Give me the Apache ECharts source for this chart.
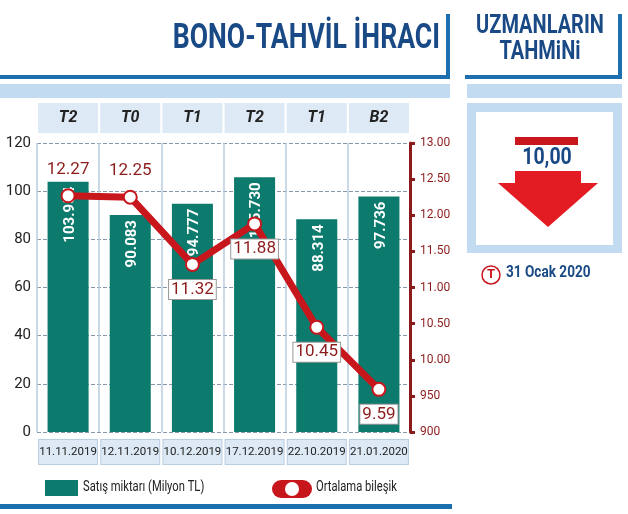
<!DOCTYPE html>
<html><head><meta charset="utf-8">
<script src="https://cdn.jsdelivr.net/npm/echarts@6/dist/echarts.min.js"></script>
<style>html,body{margin:0;padding:0;background:#fff}#c{width:628px;height:514px}</style>
</head><body><div id="c"></div>
<script>
var types = ['T2','T0','T1','T2','T1','B2'];
var dates = ['11.11.2019','12.11.2019','10.12.2019','17.12.2019','22.10.2019','21.01.2020'];
var sales = [103.954, 90.083, 94.777, 105.730, 88.314, 97.736];
var salesLabels = ['103.954','90.083','94.777','105.730','88.314','97.736'];
var rates = [12.27, 12.25, 11.32, 11.88, 10.45, 9.59];
var leftTicks = ['0','20','40','60','80','100','120'];
var rightTicks = ['900','950','10.00','10.50','11.00','11.50','12.00','12.50','13.00'];
var F = '"Roboto","DejaVu Sans",sans-serif';
var blue = '#1d70b0', navy = '#1a4a85', red = '#c8161d', dred = '#8c1c1c', green = '#0c7a6c';
function txt(x,y,s,font,fill,align,sx,extra){
  var st={text:s,font:font,fill:fill,textAlign:align||'left'};
  if(extra) for(var k in extra) st[k]=extra[k];
  return {type:'text',x:x,y:y,scaleX:sx||0.78,style:st};
}
var chart = echarts.init(document.getElementById('c'));
chart.setOption({
  animation:false,
  grid:{left:37,right:218,top:143,bottom:82},
  xAxis:[{type:'category',data:dates,position:'bottom',axisLine:{show:false},axisTick:{show:false},
    splitLine:{show:true,lineStyle:{color:'#b9cde0',width:1.5}},
    axisLabel:{margin:8,interval:0,fontFamily:F,fontSize:11.5,color:'#222',backgroundColor:'#dde9f5',
      borderColor:'#b9cde0',borderWidth:1,width:58,height:24,lineHeight:24,align:'center'}},
    {type:'category',data:types,position:'top',axisLine:{show:false},axisTick:{show:false},
    axisLabel:{margin:10,interval:0,fontFamily:F,fontSize:16,fontWeight:'bold',fontStyle:'italic',color:'#222',
      backgroundColor:'#dde9f5',width:60,height:30,lineHeight:30,align:'center'}}],
  yAxis:[{type:'value',min:0,max:120,interval:20,axisLine:{show:false},axisTick:{show:false},
    axisLabel:{fontFamily:F,fontSize:15,color:'#222',margin:6,formatter:function(v){return leftTicks[v/20];}},
    splitLine:{lineStyle:{type:'dashed',color:'#8898a8'}}},
    {type:'value',min:9,max:13,interval:0.5,position:'right',
    axisLine:{show:true,lineStyle:{color:dred,width:3}},axisTick:{show:true,inside:false,length:5,lineStyle:{color:dred,width:3}},
    axisLabel:{fontFamily:F,fontSize:12,color:dred,margin:10,formatter:function(v){return rightTicks[Math.round((v-9)*2)];}},
    splitLine:{show:false}}],
  series:[
    {type:'bar',data:sales,barWidth:'66%',itemStyle:{color:green},
     label:{show:true,position:'insideTop',rotate:90,align:'right',verticalAlign:'middle',offset:[0,2],
       fontFamily:F,fontSize:15,fontWeight:'bold',color:'#fff',formatter:function(p){return salesLabels[p.dataIndex];}}},
    {type:'line',yAxisIndex:1,data:rates.map(function(v,i){
       var above = i<2;
       return {value:v,label:above?{position:'top',distance:10}:{position:'bottom',distance:8,backgroundColor:'#fff',borderColor:'#999',borderWidth:1,padding:[1,2]}};
     }),
     lineStyle:{color:red,width:7},symbol:'circle',symbolSize:13,
     itemStyle:{color:'#fff',borderColor:red,borderWidth:2},
     label:{show:true,fontFamily:F,fontSize:17,color:dred,formatter:function(p){return p.value.toFixed(2);}},z:5}
  ],
  graphic:[
    txt(440,22,'BONO-TAHVİL İHRACI','bold 35px '+F,navy,'right',0.76),
    {type:'rect',shape:{x:0,y:75,width:450,height:4},style:{fill:blue}},
    {type:'rect',shape:{x:446,y:14,width:4,height:65},style:{fill:blue}},
    {type:'rect',shape:{x:0,y:84,width:450,height:14},style:{fill:'#c3dbf0'}},
    txt(540,14,'UZMANLARIN\nTAHMiNi','bold 25px '+F,navy,'center',0.8,{lineHeight:26}),
    {type:'rect',shape:{x:465,y:75,width:157,height:4},style:{fill:blue}},
    {type:'rect',shape:{x:618,y:14,width:4,height:65},style:{fill:blue}},
    {type:'rect',shape:{x:467,y:84,width:155,height:14},style:{fill:'#c3dbf0'}},
    {type:'rect',shape:{x:467,y:103,width:155,height:150},style:{fill:'#c3dbf0'}},
    {type:'rect',shape:{x:476,y:112,width:137,height:133},style:{fill:'#fff'}},
    {type:'rect',shape:{x:515,y:137,width:63,height:8},style:{fill:red}},
    txt(547,147,'10,00','bold 23px '+F,navy,'center',0.85),
    {type:'polygon',shape:{points:[[515,171],[581,171],[581,183],[598,183],[548,227],[498,183],[515,183]]},style:{fill:'#e31b23'}},
    {type:'circle',shape:{cx:491,cy:275,r:9},style:{fill:'#fff',stroke:red,lineWidth:1.5}},
    {type:'text',x:491,y:275,style:{text:'T',font:'bold 13px '+F,fill:red,textAlign:'center',textVerticalAlign:'middle'}},
    txt(506,265,'31 Ocak 2020','bold 16px '+F,navy,'left',0.85),
    {type:'rect',shape:{x:45,y:480,width:33,height:16},style:{fill:green}},
    txt(83,480,'Satış miktarı (Milyon TL)','14px '+F,'#222','left',0.8),
    {type:'rect',shape:{x:272,y:480,width:40,height:18,r:9},style:{fill:red}},
    {type:'circle',shape:{cx:292,cy:489,r:7},style:{fill:'#fff'}},
    txt(316,480,'Ortalama bileşik','14px '+F,'#222','left',0.8),
    {type:'rect',shape:{x:0,y:504,width:452,height:5},style:{fill:blue}}
  ]
});
</script></body></html>
